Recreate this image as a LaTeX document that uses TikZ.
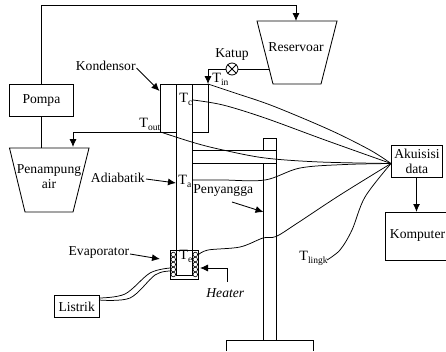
\documentclass[tikz,border=0pt]{standalone}
\usepackage{fontspec}
\setmainfont{Liberation Serif}
\usetikzlibrary{arrows.meta,shapes.misc}
\newcommand{\Tsub}[1]{T\raisebox{-2.8pt}{\fontsize{9.5}{9.5}\selectfont #1}}
\tikzset{
  lbl/.style={inner sep=0pt,font=\fontsize{13.6}{15}\selectfont,align=center},
  sens/.style={inner sep=0pt,font=\fontsize{14.2}{15}\selectfont},
  boxn/.style={draw,inner sep=0pt,align=center,font=\fontsize{13.6}{15}\selectfont,anchor=north west},
  arr/.style={-{Latex[length=8pt,width=7pt]}},
  wire/.style={line width=0.75pt},
  coil/.style={draw,circle,inner sep=0pt,minimum size=4.6pt,line width=0.6pt},
}
\begin{document}
\begin{tikzpicture}[x=1pt,y=-1pt,line width=0.85pt]
\path[use as bounding box] (0,0) rectangle (446,351);
\clip (0,0) rectangle (446,351);
\coordinate (pX) at (41.5,0);
\coordinate (akX) at (416.5,0);
% boxes
\node[boxn,minimum width=64pt,minimum height=32pt] (pompa) at (9,84) {Pompa};
\node[boxn,minimum width=44.5pt,minimum height=22pt] (listrik) at (54,295) {Listrik};
\node[boxn,minimum width=51pt,minimum height=32pt] (akuisisi) at (391,145) {Akuisisi\\data};
\node[boxn,minimum width=70pt,minimum height=48pt] (komp) at (385,212) {};
\node[lbl,anchor=west] (kompt) at (389.5,235) {Komputer};
% tanks
\draw (9.5,148) -- (89,148) -- (73,212) -- (25,212) -- cycle;
\coordinate (ptop) at (41.5,148);
\node[lbl] (penampung) at (49,177) {Penampung\\air};
\draw (257,21) -- (337,21) -- (321,84) -- (273,84) -- cycle;
\coordinate (rtop) at (296,21);
\coordinate (rleft) at (269,69);
\node[lbl] (reservoar) at (296,47.5) {Reservoar};
% condenser, pipe
\coordinate (cTR) at (208,84);
\coordinate (cBL) at (160.5,132);
\draw (cTR) -- (160.5,84) -- (cBL);
\draw (192.5,132) -- (208,132) -- (cTR);
\draw (160.5,132) -- (176,132);
\draw (176,84) -- (176,250.5);
\draw (192.5,84) -- (192.5,250.5);
% support
\draw (192.5,150.5) -- (276.5,150.5) -- (276.5,163) -- (192.5,163);
\draw (263.5,150.5) -- (263.5,138) -- (276,138) -- (276,150.5);
\draw (263.5,163) -- (263.5,340) (276,163) -- (276,340);
\draw (226,351) -- (226,340) -- (313,340) -- (313,351);
% evaporator
\draw (170.5,250.5) rectangle (198,279);
\draw (176,250.5) -- (176,275) -- (192.5,275) -- (192.5,250.5);
\foreach \yy in {254.5,259.5,264.5,269.5,274.5}{
  \node[coil] at (173.3,\yy) {};
  \node[coil] at (195.3,\yy) {};
}
% pump line
\coordinate (topr) at (296,5);
\draw (pompa.north -| pX) -- (41.5,5) -- (topr);
\draw[arr] (topr) -- (rtop);
\draw (pompa.south -| pX) -- (ptop);
% valve and Tin
\node[draw,cross out,minimum size=8pt,inner sep=0pt,line width=0.8pt] (katup) at (232,69) {};
\draw[line width=0.8pt] (katup.center) circle (6pt);
\draw (rleft) -- (238,69);
\draw[arr] (226,69) -- (208,69) -- (cTR);
% Tout
\draw[arr] (cBL) -- (73,132) -- (73,147);
% sensor wires
\coordinate (daq) at (391,163.5);
\draw[wire] plot[smooth,tension=.55] coordinates {(cTR) (235,93) (273,106) (330,130) (370,150) (daq)};
\draw[wire] plot[smooth,tension=.55] coordinates {(193,100) (223,105) (265,118) (325,140) (daq)};
\draw[wire] plot[smooth,tension=.55] coordinates {(cBL) (195,143) (223,150) (265,158) (320,162) (daq)};
\draw[wire] plot[smooth,tension=.55] coordinates {(192.5,180) (223,180) (265,180) (300,168) (345,164.5) (daq)};
\draw[wire] plot[smooth,tension=.55] coordinates {(198,255) (208,250) (240,247) (263,238) (276,236.5) (296,224) (340,195) (daq)};
\draw[wire] plot[smooth,tension=.55] coordinates {(327,260) (340,250) (352,230) (365,197) (daq)};
% power wires
\draw[wire] plot[smooth,tension=.55] coordinates {(99,298) (125,294) (150,273) (170,268)};
\draw[wire] plot[smooth,tension=.55] coordinates {(99,300) (130,298) (155,275) (170,271)};
% akuisisi to komputer
\draw[arr,line width=1pt] (akuisisi.south -| akX) -- (komp.north -| akX);
% labels and pointers
\node[lbl,anchor=east] (kond) at (136,66) {Kondensor};
\draw[arr] (136.5,68) -- (159.5,91);
\node[lbl,anchor=east] (adia) at (145,178) {Adiabatik};
\draw[arr] (146,179) -- (176,183);
\node[lbl,anchor=east] (evap) at (129.5,252) {Evaporator};
\draw[arr] (130,254) -- (160,259);
\node[lbl,anchor=west] (peny) at (193,191) {Penyangga};
\draw[arr] (232,202) -- (263.5,212);
\node[lbl] (katupl) at (232,54) {Katup};
\draw[arr] (227,268) -- (200,268);
\draw (227,268) -- (227,282);
\node[lbl,anchor=west] (heater) at (206,293) {\itshape Heater};
% sensor labels
\node[sens,anchor=west] at (212,79) {\Tsub{in}};
\node[sens,anchor=west] at (179,99.5) {\Tsub{c}};
\node[sens,anchor=west] at (139,124.5) {\Tsub{out}};
\node[sens,anchor=west] at (178,181) {\Tsub{a}};
\node[sens,anchor=west] at (179,256) {\Tsub{e}};
\node[sens,anchor=west] at (299,258) {\Tsub{lingk}};
\end{tikzpicture}
\end{document}
